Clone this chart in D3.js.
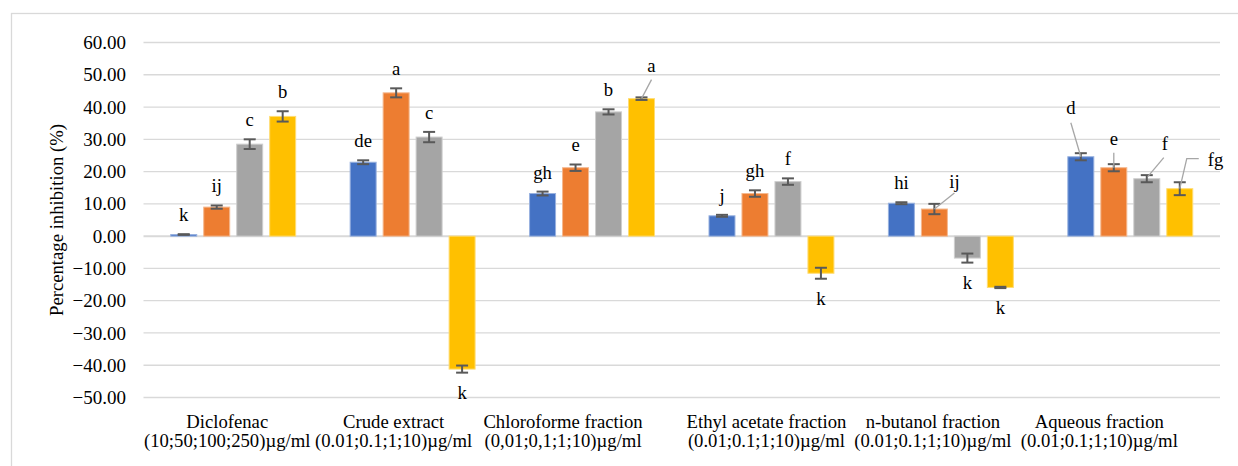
<!DOCTYPE html>
<html>
<head>
<meta charset="utf-8">
<script src="https://cdn.jsdelivr.net/npm/d3@7"></script>
<style>
  body { margin: 0; background: #fff; }
  svg text { font-family: "Liberation Serif", "Times New Roman", serif; fill: #000; }
</style>
</head>
<body>
<div id="chart"></div>
<script>
// groups (two-line category labels)
const categories = ["Diclofenac", "Crude extract", "Chloroforme fraction",
  "Ethyl acetate fraction", "n-butanol fraction", "Aqueous fraction"];
const doses = ["(10;50;100;250)µg/ml", "(0.01;0.1;1;10)µg/ml", "(0,01;0,1;1;10)µg/ml",
  "(0.01;0.1;1;10)µg/ml", "(0.01;0.1;1;10)µg/ml", "(0.01;0.1;1;10)µg/ml"];

// four concentrations per group
const series = ["dose1", "dose2", "dose3", "dose4"];
const colors = ["#4472C4", "#ED7D31", "#A5A5A5", "#FFC000"];

const dose1Vals = [0.5, 22.9, 13.2, 6.3, 10.2, 24.6];
const dose2Vals = [9.0, 44.4, 21.2, 13.2, 8.4, 21.2];
const dose3Vals = [28.5, 30.7, 38.5, 16.9, -6.8, 17.8];
const dose4Vals = [37.1, -41.2, 42.6, -11.5, -15.9, 14.7];

const dose1Err = [0.1, 0.6, 0.6, 0.3, 0.3, 1.1];
const dose2Err = [0.5, 1.4, 1.0, 1.0, 1.6, 1.1];
const dose3Err = [1.5, 1.6, 0.8, 1.0, 1.4, 1.1];
const dose4Err = [1.6, 1.1, 0.4, 1.7, 0.2, 2.0];

const dose1Letters = ["k", "de", "gh", "j", "hi", "d"];
const dose2Letters = ["ij", "a", "e", "gh", "ij", "e"];
const dose3Letters = ["c", "c", "b", "f", "k", "f"];
const dose4Letters = ["b", "k", "a", "k", "k", "fg"];

const yTicks = [60, 50, 40, 30, 20, 10, 0, -10, -20, -30, -40, -50];

const vals = [dose1Vals, dose2Vals, dose3Vals, dose4Vals];
const errs = [dose1Err, dose2Err, dose3Err, dose4Err];
const letters = [dose1Letters, dose2Letters, dose3Letters, dose4Letters];

// labels that sit off the bar with a leader line (offsets in px from bar top)
const leaders = {
  "2-3": {tx: 10, ty: -27, anchor: "middle", path: [[10, -19], [0, 0]]},
  "4-1": {tx: 20, ty: -21, anchor: "middle", path: [[20, -16], [0, 0]]},
  "5-0": {tx: -10, ty: -43, anchor: "middle", path: [[-10, -34], [0, 0]]},
  "5-1": {tx: 0, ty: -23, anchor: "middle", path: [[0, -15], [0, 0]]},
  "5-2": {tx: 18, ty: -29, anchor: "middle", path: [[17, -21], [1, -2]]},
  "5-3": {tx: 28, ty: -23, anchor: "start", path: [[0, 0], [7, -30], [19, -30]]}
};
const labelShift = [-6, -19, -29, -5, -18, -31];

const W = 1238, H = 466;
const svg = d3.select("#chart").append("svg")
  .attr("width", W).attr("height", H);

// chart border
svg.append("rect")
  .attr("x", 11.5).attr("y", 13.5)
  .attr("width", 1300).attr("height", 600)
  .attr("fill", "none").attr("stroke", "#d9d9d9").attr("stroke-width", 1.3);

const left = 143.5, right = 1220;
const y = d3.scaleLinear().domain([-50, 60]).range([397.5, 42.5]);
const x0 = d3.scaleBand().domain(d3.range(categories.length)).range([left, right]).padding(0);
const x1 = d3.scaleBand().domain(d3.range(series.length))
  .range([0, x0.bandwidth()]).paddingInner(0.212).paddingOuter(0.826);

// gridlines
svg.append("g").selectAll("line").data(yTicks).join("line")
  .attr("x1", left).attr("x2", right)
  .attr("y1", d => y(d)).attr("y2", d => y(d))
  .attr("stroke", "#d9d9d9")
  .attr("stroke-width", d => d === 0 ? 2 : 1.3);

// y axis labels
const yAxis = d3.axisLeft(y).tickValues(yTicks).tickSize(0).tickPadding(0)
  .tickFormat(d3.format(".2f"));
svg.append("g").attr("transform", "translate(126,0)").call(yAxis)
  .call(g => g.select(".domain").remove())
  .selectAll("text")
  .style("font-family", "'Liberation Serif', serif")
  .style("font-size", "19px").attr("fill", "#000");

svg.append("text")
  .attr("transform", "translate(63,220) rotate(-90)")
  .attr("text-anchor", "middle")
  .style("font-size", "18.7px")
  .text("Percentage inhibition (%)");

// bars
const flat = [];
categories.forEach((c, gi) => series.forEach((s, si) => {
  flat.push({gi, si, v: vals[si][gi], e: errs[si][gi], l: letters[si][gi]});
}));
const cx = d => x0(d.gi) + x1(d.si) + x1.bandwidth() / 2;

svg.append("g").selectAll("rect").data(flat).join("rect")
  .attr("x", d => x0(d.gi) + x1(d.si))
  .attr("width", x1.bandwidth())
  .attr("y", d => Math.min(y(d.v), y(0)))
  .attr("height", d => Math.abs(y(d.v) - y(0)))
  .attr("fill", d => colors[d.si])
  .attr("stroke", d => d3.interpolateRgb(colors[d.si], "#fff")(0.45))
  .attr("stroke-width", 1);

// error bars
const eb = svg.append("g").attr("stroke", "#595959").attr("stroke-width", 2);
flat.forEach(d => {
  const x = cx(d), y1 = y(d.v + d.e), y2 = y(d.v - d.e);
  eb.append("line").attr("x1", x).attr("x2", x).attr("y1", y1).attr("y2", y2);
  eb.append("line").attr("x1", x - 6).attr("x2", x + 6).attr("y1", y1).attr("y2", y1);
  eb.append("line").attr("x1", x - 6).attr("x2", x + 6).attr("y1", y2).attr("y2", y2);
});

// significance letters
const lab = svg.append("g").style("font-size", "18.7px");
flat.forEach(d => {
  const key = d.gi + "-" + d.si;
  const x = cx(d);
  if (leaders[key]) {
    const L = leaders[key], top = y(d.v);
    lab.append("path")
      .attr("d", d3.line()(L.path.map(p => [x + p[0], top + p[1]])))
      .attr("fill", "none").attr("stroke", "#a6a6a6").attr("stroke-width", 1.3);
    lab.append("text").attr("x", x + L.tx).attr("y", top + L.ty)
      .attr("text-anchor", L.anchor).text(d.l);
  } else if (d.v >= 0) {
    lab.append("text").attr("x", x).attr("y", y(d.v + d.e) - 13)
      .attr("text-anchor", "middle").text(d.l);
  } else {
    lab.append("text").attr("x", x).attr("y", y(d.v - d.e) + 26)
      .attr("text-anchor", "middle").text(d.l);
  }
});

// category labels
const cat = svg.append("g").style("font-size", "18.7px").attr("text-anchor", "middle");
categories.forEach((c, i) => {
  const x = x0(i) + x0.bandwidth() / 2 + labelShift[i];
  cat.append("text").attr("x", x).attr("y", 428).text(c);
  cat.append("text").attr("x", x).attr("y", 447).text(doses[i]);
});
</script>
</body>
</html>
